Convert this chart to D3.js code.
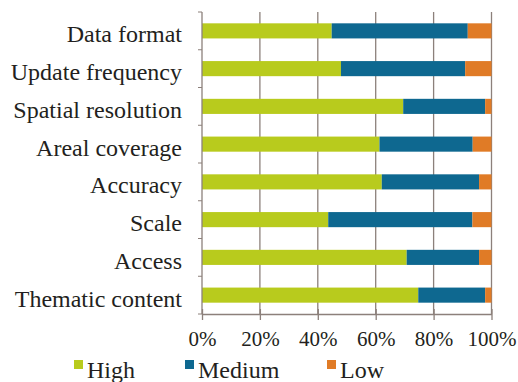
<!DOCTYPE html>
<html><head><meta charset="utf-8">
<script src="https://cdn.jsdelivr.net/npm/d3@7"></script>
<style>
html,body{margin:0;padding:0;background:#fff;}
svg{display:block;}
text{font-family:"Liberation Serif","Times New Roman","DejaVu Serif",serif;fill:#231f20;}
</style></head>
<body>
<svg id="chart" width="518" height="382"></svg>
<script>
const categories = ["Data format","Update frequency","Spatial resolution","Areal coverage","Accuracy","Scale","Access","Thematic content"];
const high   = [44.8, 48.0, 69.5, 61.3, 62.1, 43.6, 70.7, 74.7];
const medium = [47.0, 42.9, 28.3, 32.2, 33.6, 49.8, 25.0, 23.1];
const low    = [8.2, 9.1, 2.2, 6.5, 4.3, 6.6, 4.3, 2.2];
const seriesNames = ["High","Medium","Low"];
const seriesColors = ["#b8cb1d","#0e6890","#e07b26"];
const xTicks = [0,20,40,60,80,100];

(function(){
const svg = d3.select("#chart");
const pLeft = 202, pRight = 491.5, pTop = 12, pBottom = 314;
const serif = "Liberation Serif, Times New Roman, serif";

const x = d3.scaleLinear().domain([0,100]).range([pLeft,pRight]);
const y = d3.scaleBand().domain(categories).range([pTop,pBottom]).paddingInner(0.6).paddingOuter(0.3);

const rows = categories.map((c,i)=>({cat:c, High:high[i], Medium:medium[i], Low:low[i]}));
const stack = d3.stack().keys(seriesNames)(rows);

const gridColor = "#8c807b";

svg.append("g").selectAll("line").data(xTicks.slice(1)).join("line")
  .attr("x1",d=>x(d)).attr("x2",d=>x(d))
  .attr("y1",pTop).attr("y2",pBottom)
  .attr("stroke",gridColor).attr("stroke-width",1.3);

svg.append("g").selectAll("g").data(stack).join("g")
  .attr("fill",(d,i)=>seriesColors[i])
  .selectAll("rect").data(d=>d).join("rect")
  .attr("x",d=>x(d[0]))
  .attr("width",d=>x(d[1])-x(d[0]))
  .attr("y",d=>y(d.data.cat))
  .attr("height",y.bandwidth());

const yAxisG = svg.append("g");
yAxisG.append("line").attr("x1",pLeft).attr("x2",pLeft).attr("y1",pTop).attr("y2",pBottom)
  .attr("stroke",gridColor).attr("stroke-width",1.3);
const boundaries = d3.range(categories.length+1).map(i=> pTop + (pBottom-pTop)*i/categories.length);
yAxisG.selectAll("line.t").data(boundaries).join("line").attr("class","t")
  .attr("x1",pLeft-4).attr("x2",pLeft).attr("y1",d=>d).attr("y2",d=>d)
  .attr("stroke",gridColor).attr("stroke-width",1);
yAxisG.selectAll("text").data(categories).join("text")
  .attr("x",182).attr("y",d=>y(d)+y.bandwidth()/2+3)
  .attr("dy","0.35em").attr("text-anchor","end")
  .attr("font-family",serif)
  .attr("font-size",24).text(d=>d);

const xAxis = d3.axisBottom(x).tickValues(xTicks).tickFormat(d=>d+"%").tickSize(6).tickSizeOuter(0);
const xg = svg.append("g").attr("transform",`translate(0,${pBottom})`).call(xAxis);
xg.attr("font-family",serif);
xg.select(".domain").attr("stroke",gridColor).attr("stroke-width",1.3);
xg.selectAll(".tick line").attr("stroke",gridColor).attr("stroke-width",1.3).attr("y1",-5);
xg.selectAll(".tick text").attr("font-size",21).attr("font-family",serif).attr("fill","#231f20").attr("y",17).attr("dy","0.71em");

const legendX = [74, 185, 327];
const lg = svg.append("g");
seriesNames.forEach((name,i)=>{
  lg.append("rect").attr("x",legendX[i]).attr("y",360).attr("width",9).attr("height",9).attr("fill",seriesColors[i]);
  lg.append("text").attr("x",legendX[i]+13).attr("y",378).attr("font-family",serif).attr("font-size",24).text(name);
});
})();
</script>
</body></html>
